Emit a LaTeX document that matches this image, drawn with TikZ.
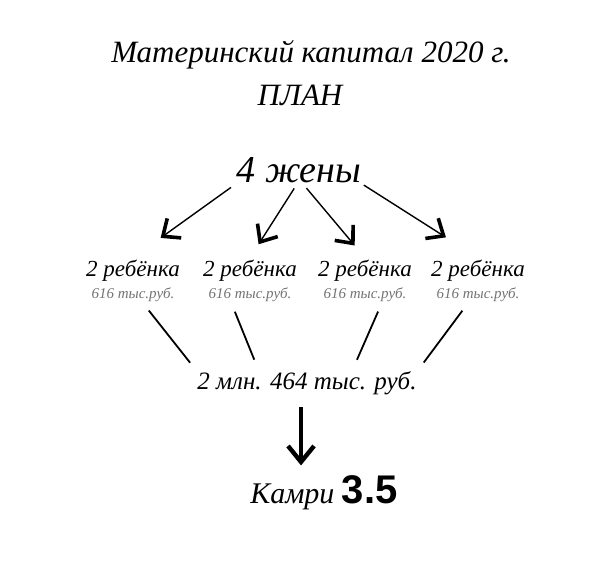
\documentclass[tikz,border=0pt]{standalone}
\usepackage{fontspec}
\setmainfont{Liberation Serif}
\newfontfamily\numfont{Liberation Sans}
\usetikzlibrary{arrows.meta, positioning}

\begin{document}
\begin{tikzpicture}[x=0.5pt, y=-0.5pt,
  hand/.style={font=\itshape\fontsize{#1}{#1}\selectfont, inner sep=1pt},
  kid/.style={align=center, inner sep=1pt},
  pen/.style={line width=0.7pt, -{Straight Barb[length=7pt, width=12pt, line width=1.8pt]}},
  bigpen/.style={line width=2pt, -{Straight Barb[length=8pt, width=13pt, line width=2.2pt]}},
  link/.style={line width=0.9pt}]
\useasboundingbox (0,0) rectangle (604,572);
% header
\node[hand=15.5] (title) at (311,55) {Материнский капитал 2020 г.};
\node[hand=15.5] (plan) at (300,95) {ПЛАН};
\node[hand=19] (wives) at (299,170) {4 жены};
% children
\foreach \i/\x in {1/133, 2/250, 3/365, 4/478}
  \node[kid] (c\i) at (\x,281) {{\itshape\fontsize{11.5}{12}\selectfont 2 ребёнка}\\[-1pt]
    {\itshape\fontsize{7.5}{8}\selectfont\color{black!55} 616 тыс.руб.}};
\draw[pen, shorten <=2pt, shorten >=17pt] (wives.south west) -- (c1.north);
\draw[pen, shorten <=2pt, shorten >=8pt] (wives.-100) -- (c2.north);
\draw[pen, shorten <=2pt, shorten >=8pt] (wives.-72) -- (c3.north);
\draw[pen, shorten <=0pt, shorten >=19pt] (wives.south east) -- (c4.north);
% total
\node[hand=12.5] (sum) at (307,383) {2 млн. 464 тыс. руб.};
\draw[link, shorten <=4pt, shorten >=4pt] (c1.-65) -- (sum.north west);
\draw[link, shorten <=4pt, shorten >=5pt] (c2.-128) -- (sum.164);
\draw[link, shorten <=4pt, shorten >=5pt] (c3.-55) -- (sum.17);
\draw[link, shorten <=4pt, shorten >=4pt] (c4.-115) -- (sum.north east);
% result
\node[hand=15] (car) at (324,493) {Камри {\upshape\numfont\bfseries\fontsize{20}{20}\selectfont 3.5}};
\draw[bigpen, shorten <=5pt, shorten >=4pt] (sum.247) -- (sum.247 |- car.north);
\end{tikzpicture}
\end{document}
